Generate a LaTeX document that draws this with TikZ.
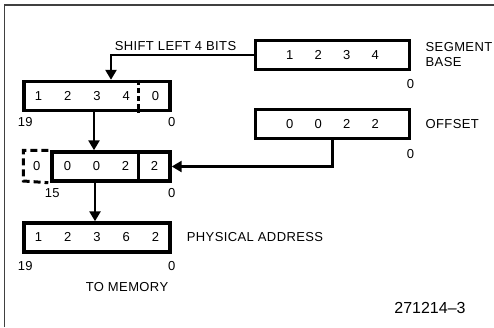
\documentclass[tikz,border=0pt]{standalone}
\usepackage{fontspec}
\setmainfont{Liberation Sans}[LetterSpace=3]
\newfontfamily\figfont{Liberation Sans}
\usetikzlibrary{arrows.meta,positioning}
\newcommand{\cel}[2][29.2pt]{\makebox[#1]{#2}}

\begin{document}
\begin{tikzpicture}[x=1pt,y=-1pt,>={Triangle[length=10pt,width=11pt]},
	reg node/.style={rectangle,draw,line width=3.4pt,inner sep=0pt,minimum height=29pt,font=\fontsize{13pt}{15pt}\selectfont},
	txt/.style={inner sep=0pt,font=\fontsize{13pt}{15pt}\selectfont},
	flecha/.style={->,line width=2.4pt},
	corte/.style={line width=2.6pt,dash pattern=on 5pt off 3pt}]
	
	\useasboundingbox (0,0) rectangle (494,327);
	\draw[black!75,line width=1.4pt] (4.5,327) -- (4.5,5) -- (494,5);
	
	% Definición de los registros
	\node[reg node,minimum width=154.5pt] (1) at (332.5,55) {\cel[28.5pt]{1}\cel[28.5pt]{2}\cel[28.5pt]{3}\cel[28.5pt]{4}\hspace{4pt}};
	\node[reg node,minimum width=146pt] (2) at (97,96) {\cel{1}\cel{2}\cel{3}\cel{4}\cel{0}};
	\node[reg node,minimum width=154.5pt] (3) at (332.5,124) {\cel[28.5pt]{0}\cel[28.5pt]{0}\cel[28.5pt]{2}\cel[28.5pt]{2}\hspace{4pt}};
	\node[reg node,minimum width=118pt] (4) at (111,166.5) {\cel[29pt]{0}\cel[29pt]{0}\cel[29pt]{2}\cel[29pt]{2}\hspace{2pt}};
	\node[reg node,draw=none,outer sep=0pt,minimum width=27pt] (0) [left=0pt of 4] {0};
	\node[reg node,minimum width=146pt] (5) at (97,237.5) {\cel{1}\cel{2}\cel{3}\cel{6}\cel{2}};
	
	% Divisiones de los registros
	\draw[corte] ([xshift=-33.5pt]2.north east) -- ([xshift=-33.5pt]2.south east);
	\draw[line width=2.6pt] ([xshift=-33.5pt]4.north east) -- ([xshift=-33.5pt]4.south east);
	\draw[line width=3pt,dash pattern=on 7pt off 4pt] ([xshift=-2pt]4.north west) -| (0.south west) -- ([xshift=-2pt]4.south west);
	
	% Textos
	\node[txt] (6) [right=14pt of 1,align=left] {SEGMENT\\BASE};
	\node[txt] (7) [right=14pt of 3] {OFFSET};
	\node[txt] (8) [right=15pt of 5] {PHYSICAL ADDRESS};
	\node[txt] (9) at (175.5,46) {SHIFT LEFT 4 BITS};
	\node[txt] (10) [below=29pt of 5,xshift=30pt] {TO MEMORY};
	\node[inner sep=0pt,font=\fontsize{16pt}{18pt}\figfont] (11) at (430,308) {271214–3};
	
	% Números de bit
	\node[txt,anchor=north] at ([xshift=3pt,yshift=-5pt]2.south west) {19};
	\node[txt,anchor=north] at ([yshift=-5pt]2.south east) {0};
	\node[txt,anchor=north] at ([xshift=-1pt,yshift=-8.5pt]1.south east) {0};
	\node[txt,anchor=north] at ([xshift=-1pt,yshift=-9.5pt]3.south east) {0};
	\node[txt,anchor=north] at ([xshift=2pt,yshift=-6pt]4.south west) {15};
	\node[txt,anchor=north] at ([yshift=-6pt]4.south east) {0};
	\node[txt,anchor=north] at ([xshift=3pt,yshift=-8pt]5.south west) {19};
	\node[txt,anchor=north] at ([yshift=-8pt]5.south east) {0};
	
	% Conexiones
	\draw[flecha] (1.west) -| ([xshift=14pt]2.north);
	\draw[flecha] ([xshift=-3pt]2.south) -- ([xshift=-3pt]2.south |- 4.north);
	\draw[flecha] (3.south) |- (4.east);
	\draw[flecha] ([xshift=-16pt]4.south) -- ([xshift=-16pt]4.south |- 5.north);
\end{tikzpicture}
\end{document}
